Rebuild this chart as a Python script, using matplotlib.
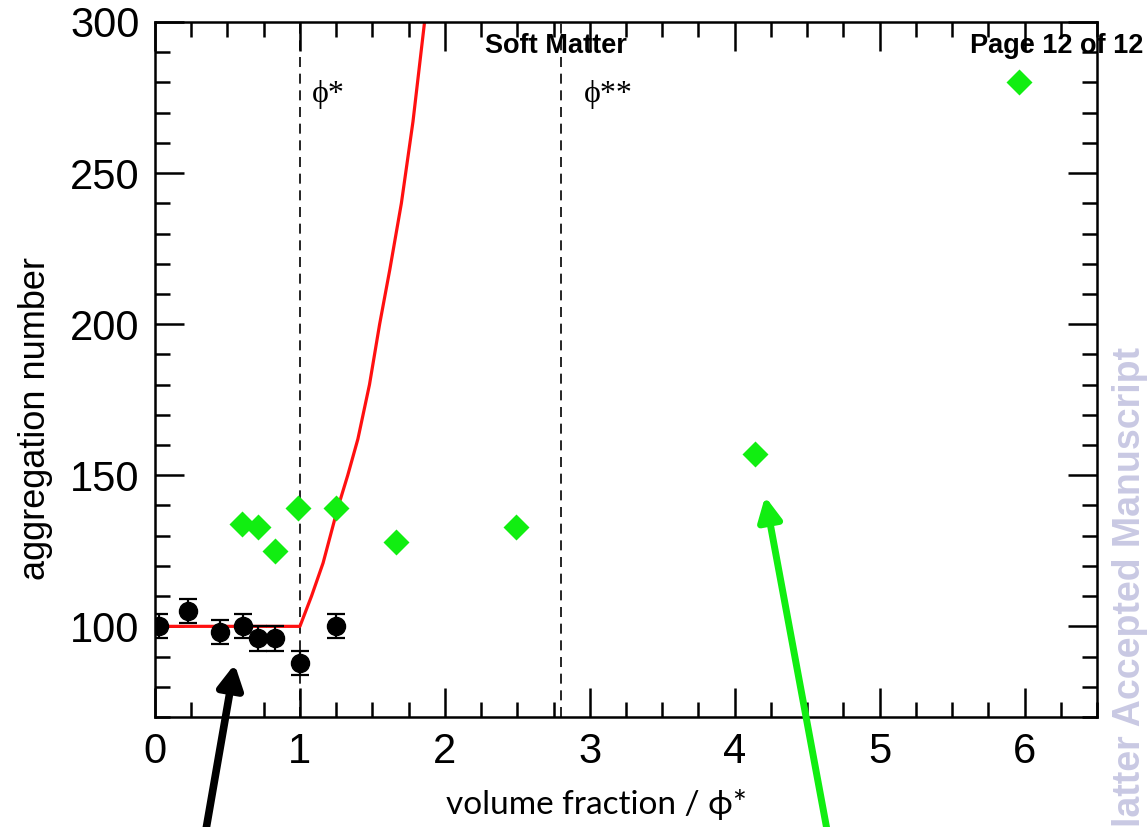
"""Aggregation number vs volume fraction (scaled by phi*) — micelle growth above phi*."""
import matplotlib
matplotlib.use("Agg")
import matplotlib.pyplot as plt
from matplotlib.ticker import MultipleLocator

# black circles (with error bars)
phi_black = [0.03, 0.23, 0.45, 0.61, 0.71, 0.83, 1.00, 1.25]
n_black = [100, 105, 98, 100, 96, 96, 88, 100]
err_black = [4, 4, 4, 4, 4, 4, 4, 4]

# green diamonds
phi_green = [0.60, 0.71, 0.83, 0.99, 1.25, 1.66, 2.49, 4.14, 5.96]
n_green = [134, 133, 125, 139, 139, 128, 133, 157, 280]

# red model line
phi_red = [0.0, 1.00, 1.08, 1.16, 1.26, 1.33, 1.40, 1.48, 1.55, 1.62, 1.70, 1.78, 1.86]
n_red = [100, 100, 110, 121, 139, 150, 162, 180, 200, 218, 240, 267, 300]

PHI_STAR = 1.0
PHI_STAR2 = 2.8

BLACK = "#000000"
GREEN = "#11ee11"
RED = "#ff1010"
SANS = ["Liberation Sans", "DejaVu Sans"]
SERIF = ["Liberation Serif", "DejaVu Serif"]

plt.rcParams["font.family"] = SANS

fig = plt.figure(figsize=(11.48, 8.27), dpi=100)
ax = fig.add_axes([155 / 1148, 1 - 717 / 827, 942 / 1148, 695 / 827])

ax.plot(phi_red, n_red, color=RED, lw=2.3, zorder=2, solid_joinstyle="round")
ax.axvline(PHI_STAR, color=BLACK, lw=1.2, ls=(0, (6, 4)), zorder=1)
ax.axvline(PHI_STAR2, color=BLACK, lw=1.2, ls=(0, (6, 4)), zorder=1)
ax.errorbar(phi_black, n_black, yerr=err_black, fmt="o", color=BLACK, ms=13,
            capsize=6.5, elinewidth=1.6, capthick=1.6, zorder=3)
ax.plot(phi_green, n_green, "D", color=GREEN, ms=13, mec="none", zorder=3)

ax.text(1.08, 276, "ϕ*", family=SERIF, fontsize=23, va="center")
ax.text(2.96, 276, "ϕ**", family=SERIF, fontsize=23, va="center")

ax.set_xlim(0, 6.5)
ax.set_ylim(70, 300)
ax.xaxis.set_major_locator(MultipleLocator(1))
ax.xaxis.set_minor_locator(MultipleLocator(0.25))
ax.yaxis.set_major_locator(MultipleLocator(50))
ax.yaxis.set_minor_locator(MultipleLocator(10))
ax.tick_params(which="both", direction="in", top=True, right=True, width=1.8)
ax.tick_params(which="major", length=21, labelsize=30, pad=11)
ax.tick_params(which="minor", length=11)
for s in ax.spines.values():
    s.set_linewidth(1.8)

ax.set_ylabel("aggregation number", fontsize=26)
ax.yaxis.set_label_coords(-0.108, 0.43)
ax.set_xlabel("volume fraction / ϕ*", fontsize=24, family=["Lato", "DejaVu Sans"])
ax.xaxis.set_label_coords(0.469, -0.103)

# arrows pointing at the two data sets (tails run off the bottom of the page)
ax.annotate("", xy=(0.55, 87.5), xycoords="data", xytext=(205 / 1148, -0.01),
            textcoords="figure fraction", annotation_clip=False,
            arrowprops=dict(arrowstyle="-|>,head_length=1.4,head_width=0.75", color=BLACK,
                            lw=5.5, shrinkA=0, shrinkB=0))
ax.annotate("", xy=(4.21, 143), xycoords="data", xytext=(828 / 1148, -0.01),
            textcoords="figure fraction", annotation_clip=False,
            arrowprops=dict(arrowstyle="-|>,head_length=1.4,head_width=0.7", color=GREEN,
                            lw=5, shrinkA=0, shrinkB=0))

# page header and journal watermark
fig.text(485 / 1148, 1 - 53 / 827, "Soft Matter", fontsize=19.5, fontweight="bold", ha="left")
fig.text(1143 / 1148, 1 - 53 / 827, "Page 12 of 12", fontsize=19.5, fontweight="bold", ha="right")
fig.text(1130 / 1148, 0.0, "latter Accepted Manuscript", fontsize=27,
         fontweight="bold", color="#c9c9e3", rotation=90, ha="center", va="bottom")

fig.savefig("out.png", dpi=100)
